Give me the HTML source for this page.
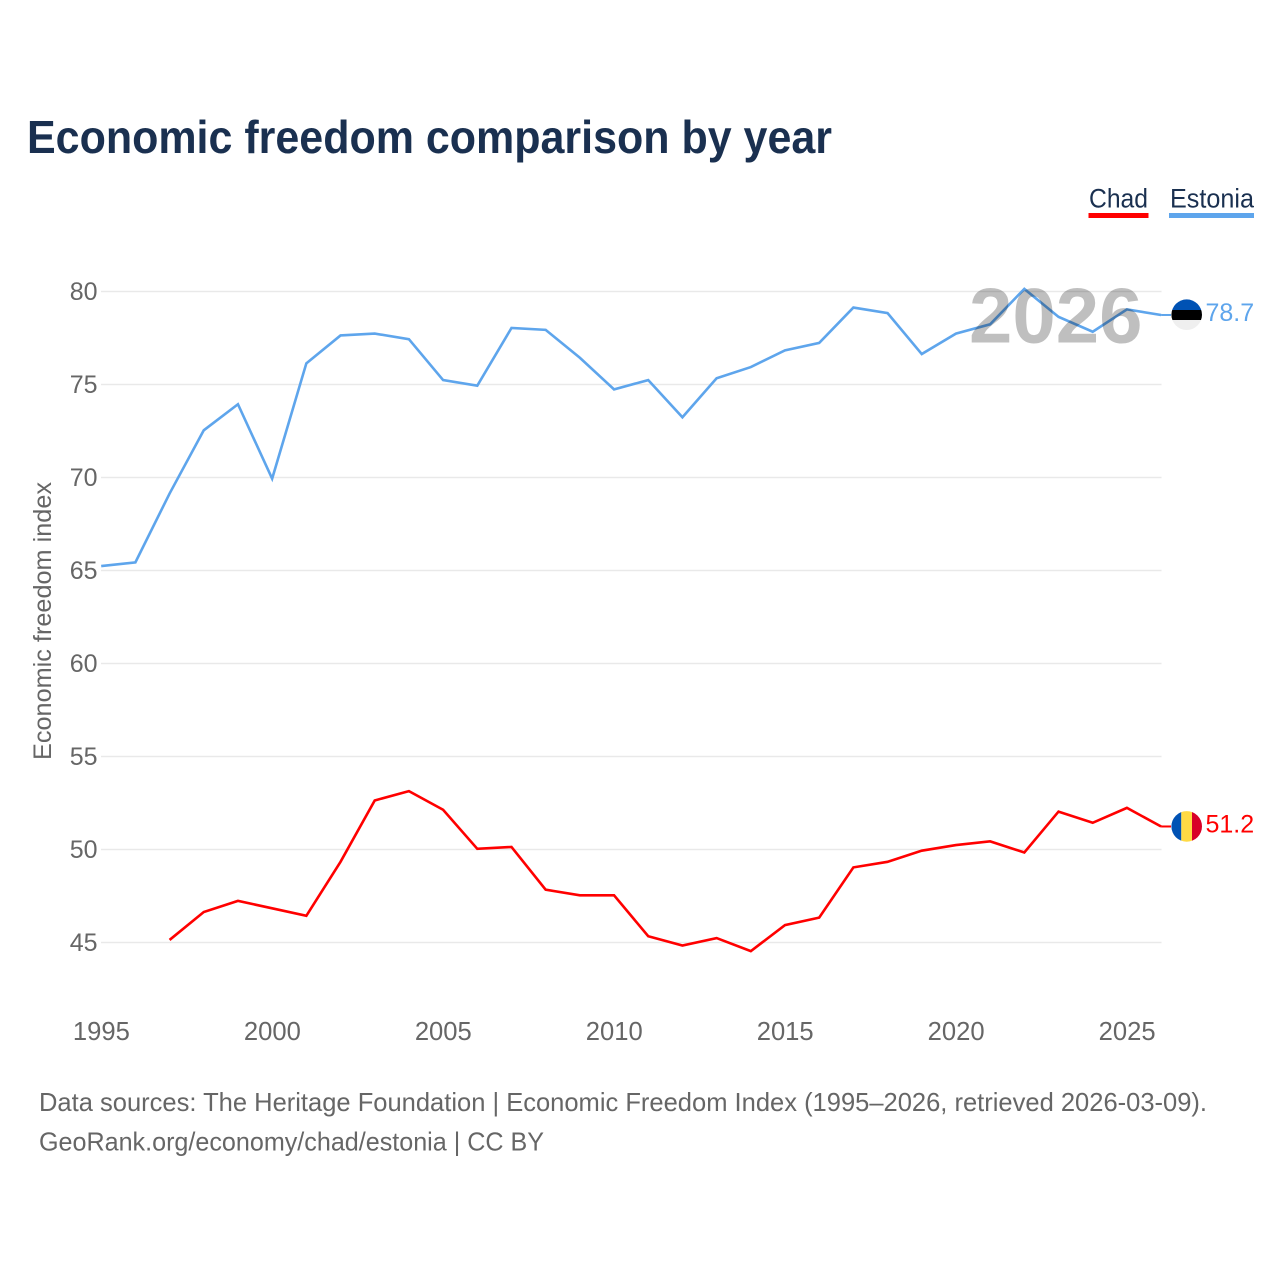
<!DOCTYPE html>
<html lang="en">
<head>
<meta charset="utf-8">
<title>Economic freedom comparison by year</title>
<style>
  html, body { margin: 0; padding: 0; background: #fff; }
  svg { display: block; font-family: "Liberation Sans", Arial, sans-serif; }
</style>
</head>
<body>
<svg id="chart" xmlns="http://www.w3.org/2000/svg" width="1280" height="1280" viewBox="0 0 1280 1280">
  <rect width="1280" height="1280" fill="#ffffff"/>
  <text x="27" y="153" font-size="46" font-weight="700" fill="#1a3050" textLength="805" lengthAdjust="spacingAndGlyphs">Economic freedom comparison by year</text>

  <g>
    <text x="1089" y="207.5" font-size="27" fill="#1a3050" textLength="59" lengthAdjust="spacingAndGlyphs">Chad</text>
    <rect x="1088.5" y="213" width="60" height="5" fill="#ff0000"/>
  </g>
  <g>
    <text x="1170" y="207.5" font-size="27" fill="#1a3050" textLength="84" lengthAdjust="spacingAndGlyphs">Estonia</text>
    <rect x="1169" y="213" width="85" height="5" fill="#5ea5ec"/>
  </g>

  <g id="grid"></g>
  <g id="yticks"></g>
  <g id="xticks"></g>
  <text transform="translate(51,760) rotate(-90)" font-size="25" fill="#666666" textLength="278" lengthAdjust="spacingAndGlyphs">Economic freedom index</text>

  <g id="series" transform="translate(0,-0.7)"></g>

  <text x="969" y="342.5" font-size="78" font-weight="700" fill="#000000" fill-opacity="0.25">2026</text>

  <defs>
    <clipPath id="flag-clip-estonia"><circle cx="1186.7" cy="314.7" r="15.3"/></clipPath>
    <clipPath id="flag-clip-chad"><circle cx="1186.7" cy="826.4" r="15.3"/></clipPath>
  </defs>
  <g clip-path="url(#flag-clip-estonia)">
    <rect x="1171" y="299" width="31" height="11" fill="#0052b4"/>
    <rect x="1171" y="310" width="31" height="10" fill="#000000"/>
    <rect x="1171" y="320" width="31" height="11" fill="#efefef"/>
  </g>
  <g clip-path="url(#flag-clip-chad)">
    <rect x="1171" y="811" width="10.3" height="31" fill="#0052b4"/>
    <rect x="1181.3" y="811" width="10.7" height="31" fill="#ffda44"/>
    <rect x="1192" y="811" width="10" height="31" fill="#d80027"/>
  </g>
  <g id="labels"></g>

  <text x="39" y="1111" font-size="26" fill="#666666" textLength="1168" lengthAdjust="spacingAndGlyphs">Data sources: The Heritage Foundation | Economic Freedom Index (1995–2026, retrieved 2026-03-09).</text>
  <text x="39" y="1150.5" font-size="26" fill="#666666" textLength="505" lengthAdjust="spacingAndGlyphs">GeoRank.org/economy/chad/estonia | CC BY</text>
</svg>
<script>
const years = [1995,1996,1997,1998,1999,2000,2001,2002,2003,2004,2005,2006,2007,2008,2009,2010,2011,2012,2013,2014,2015,2016,2017,2018,2019,2020,2021,2022,2023,2024,2025,2026];
const estoniaValues = [65.2,65.4,69.1,72.5,73.9,69.9,76.1,77.6,77.7,77.4,75.2,74.9,78.0,77.9,76.4,74.7,75.2,73.2,75.3,75.9,76.8,77.2,79.1,78.8,76.6,77.7,78.2,80.1,78.6,77.8,79.0,78.7];
const chadValues = [null,null,45.1,46.6,47.2,46.8,46.4,49.3,52.6,53.1,52.1,50.0,50.1,47.8,47.5,47.5,45.3,44.8,45.2,44.5,45.9,46.3,49.0,49.3,49.9,50.2,50.4,49.8,52.0,51.4,52.2,51.2];
const yTicks = [45,50,55,60,65,70,75,80];
const xTicks = [1995,2000,2005,2010,2015,2020,2025];

const SVGNS = 'http://www.w3.org/2000/svg';
const xScale = function (year) { return 101.2 + (year - 1995) * 34.19; };
const yScale = function (value) { return 291.5 + (80 - value) * 18.6; };
const make = function (tag, attrs, parent) {
  const el = document.createElementNS(SVGNS, tag);
  Object.keys(attrs).forEach(function (k) { el.setAttribute(k, attrs[k]); });
  parent.appendChild(el);
  return el;
};

const gridGroup = document.getElementById('grid');
const yTickGroup = document.getElementById('yticks');
yTicks.forEach(function (tick) {
  const line = make('line', { x1: 101, x2: 1161.5, y1: yScale(tick), y2: yScale(tick), stroke: '#e9e9e9', 'stroke-width': 1.5 }, gridGroup);
  
  
  const label = make('text', { x: 97.5, y: yScale(tick) + 8.3, 'text-anchor': 'end', 'font-size': 25, fill: '#666666' }, yTickGroup);
  label.textContent = String(tick);
  
  
});

const xTickGroup = document.getElementById('xticks');
xTicks.forEach(function (tick) {
  const label = make('text', { x: xScale(tick) + 0.2, y: 1040, 'text-anchor': 'middle', 'font-size': 25.6, fill: '#666666' }, xTickGroup);
  label.textContent = String(tick);
  
  
});

const buildPath = function (values) {
  let d = '';
  values.forEach(function (v, i) {
    if (v === null) return;
    d += (d ? 'L' : 'M') + xScale(years[i]).toFixed(2) + ' ' + yScale(v).toFixed(2);
  });
  return d;
};

const seriesGroup = document.getElementById('series');
const labelGroup = document.getElementById('labels');

const chadLine = make('path', { d: buildPath(chadValues), fill: 'none', stroke: '#ff0000', 'stroke-width': 2.6, 'stroke-linejoin': 'miter' }, seriesGroup);



const estoniaLine = make('path', { d: buildPath(estoniaValues), fill: 'none', stroke: '#5ea5ec', 'stroke-width': 2.6, 'stroke-linejoin': 'miter' }, seriesGroup);



const chadLast = chadValues[chadValues.length - 1];
const estoniaLast = estoniaValues[estoniaValues.length - 1];

const chadConnector = make('line', { x1: xScale(2026), x2: 1171, y1: yScale(chadLast), y2: yScale(chadLast), stroke: '#ff0000', 'stroke-width': 2 }, seriesGroup);



const estoniaConnector = make('line', { x1: xScale(2026), x2: 1171, y1: yScale(estoniaLast), y2: yScale(estoniaLast), stroke: '#5ea5ec', 'stroke-width': 2 }, seriesGroup);



const chadLabel = make('text', { x: 1205.5, y: yScale(chadLast) + 5.2, 'font-size': 25, fill: '#ff0000' }, labelGroup);
chadLabel.textContent = chadLast.toFixed(1);



const estoniaLabel = make('text', { x: 1205.5, y: yScale(estoniaLast) + 5.2, 'font-size': 25, fill: '#5ea5ec' }, labelGroup);
estoniaLabel.textContent = estoniaLast.toFixed(1);


</script>
</body>
</html>
